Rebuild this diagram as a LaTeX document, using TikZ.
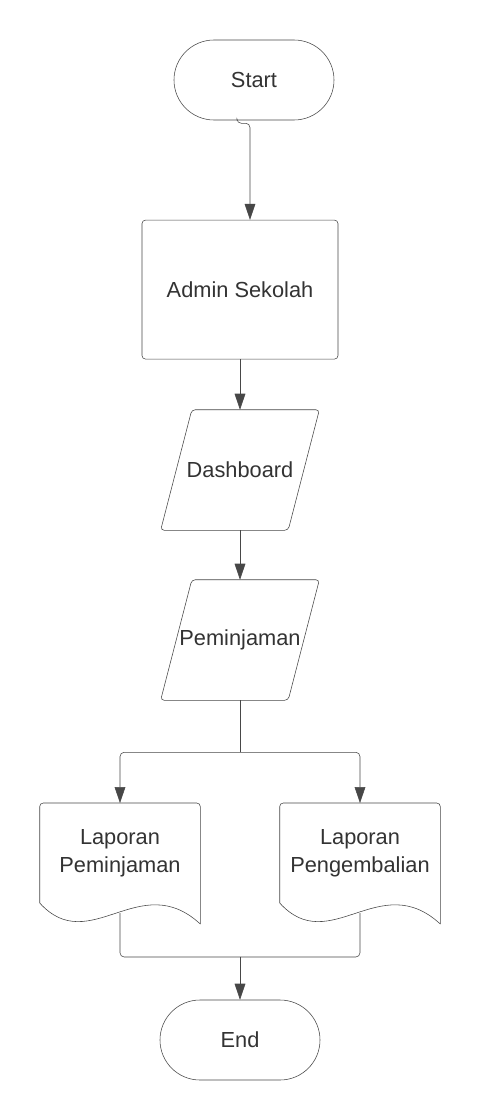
\documentclass[tikz,border=0pt]{standalone}
\usepackage{fontspec}
\setmainfont{Liberation Sans}
\usetikzlibrary{arrows.meta,positioning,calc}

\begin{document}
\begin{tikzpicture}[
        terminal/.style={
            draw=black!72,
            rounded corners=1cm,
            minimum width=4cm,
            minimum height=2cm,
            font=\fontsize{15.5}{19.5}\selectfont,
            text=black!80
        },
        process/.style={
            draw=black!72,
            rounded corners=2.5pt,
            minimum width=4.9cm,
            minimum height=3.475cm,
            font=\fontsize{15.5}{19.5}\selectfont,
            text=black!80
        },
        dataIO/.style={
            inner sep=0pt,
            minimum width=3.175cm,
            minimum height=3cm,
            font=\fontsize{15.5}{19.5}\selectfont,
            text=black!80
        },
        docNode/.style={
            minimum width=4cm,
            minimum height=2.5cm,
            align=center,
            font=\fontsize{15.5}{19.5}\selectfont,
            text=black!80
        },
        outline/.style={
            draw=black!72,
            rounded corners=2.5pt
        },
        flow/.style={
            -{Triangle[length=4mm,width=2.7mm]},
            draw=black!72,
            rounded corners=3pt
        },
        link/.style={
            draw=black!72,
            rounded corners=3pt
        }
    ]

        \useasboundingbox[fill=white] (0,0) rectangle (12,-28);

        % Flowchart nodes
        \node[terminal] (start) at (6.35,-2) {Start};
        \node[process] (admin) at (6,-7.24) {Admin Sekolah};
        \node[dataIO] (dash) at (6,-11.75) {Dashboard};
        \node[dataIO] (pinjam) at (6,-16) {Peminjaman};
        \node[docNode, anchor=north] (lapPinjam) at (3,-20.075) {Laporan\\Peminjaman};
        \node[docNode, anchor=north] (lapKembali) at (9,-20.075) {Laporan\\Pengembalian};
        \node[terminal] (end) at (6,-26) {End};

        % Parallelogram outlines
        \foreach \ioName in {dash,pinjam}
        {
            \draw[outline]
                ([xshift=0.39cm]\ioName.north west)
                -- ([xshift=0.39cm]\ioName.north east)
                -- ([xshift=-0.39cm]\ioName.south east)
                -- ([xshift=-0.39cm]\ioName.south west)
                -- cycle;
        }

        % Document outlines
        \foreach \docName in {lapPinjam,lapKembali}
        {
            \draw[outline]
                ($(\docName.north west)+(0,-2.5)$)
                -- (\docName.north west)
                -- (\docName.north east)
                -- ($(\docName.north east)+(0,-3.025)$);
            \draw[draw=black!72]
                ($(\docName.north east)+(0,-3.025)$)
                .. controls ($(\docName.north west)+(2.5,-1.625)$)
                and ($(\docName.north west)+(1.25,-3.875)$) ..
                ($(\docName.north west)+(0,-2.5)$);
            \coordinate (\docName Out) at ($(\docName.north)+(0,-2.75)$);
        }

        % Branch and merge points
        \coordinate (split) at ($(pinjam.south)+(0,-1.3)$);
        \coordinate (merge) at (6,-23.925);

        % Connectors
        \draw[flow] ([xshift=-0.425cm]start.south)
            -- ++(0,-0.075) -| ([xshift=0.25cm]admin.north);
        \draw[flow] (admin.south) -- (dash.north);
        \draw[flow] (dash.south) -- (pinjam.north);
        \draw[link] (pinjam.south) -- (split);
        \draw[flow] (split) -| (lapPinjam.north);
        \draw[flow] (split) -| (lapKembali.north);
        \draw[link] (lapPinjamOut) |- (merge);
        \draw[link] (lapKembaliOut) |- (merge);
        \draw[flow] (merge) -- (end.north);

    \end{tikzpicture}
\end{document}
